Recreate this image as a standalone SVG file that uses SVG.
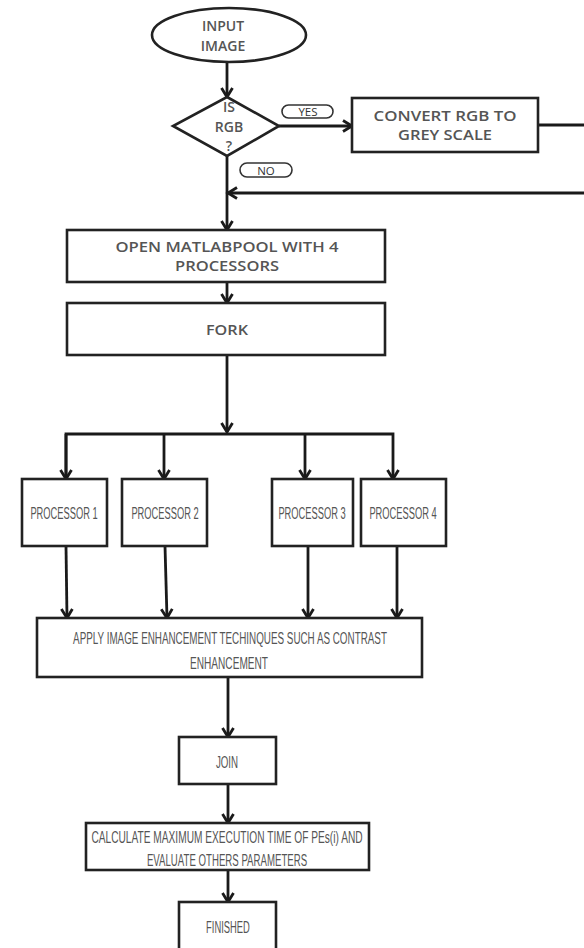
<svg xmlns="http://www.w3.org/2000/svg" width="584" height="948" viewBox="0 0 584 948">
<defs>
<marker id="arr" markerUnits="userSpaceOnUse" markerWidth="14" markerHeight="14" refX="11" refY="7" orient="auto">
<path d="M2,1.5 L11,7 L2,12.5" fill="none" stroke="#1a1a1a" stroke-width="2.8"/>
</marker>
<style>
.box{fill:#fff;stroke:#222;stroke-width:2.6}
.ln{fill:none;stroke:#1a1a1a;stroke-width:2.8}
.t{font-family:"Open Sans","Liberation Sans",sans-serif;font-weight:600;font-size:14px;fill:#555;text-anchor:middle}
.n{font-family:"Liberation Sans","Open Sans",sans-serif;font-size:16.5px;fill:#555;text-anchor:middle}
.pill{fill:#fff;stroke:#333;stroke-width:1.6}
.pt{font-family:"Open Sans","Liberation Sans",sans-serif;font-size:11.5px;fill:#333;text-anchor:middle}
</style>
</defs>
<rect width="584" height="948" fill="#fff"/>
<g id="connectors">
<line class="ln" x1="227" y1="62" x2="227" y2="97" marker-end="url(#arr)"/>
<line class="ln" x1="279" y1="126" x2="352" y2="126" marker-end="url(#arr)"/>
<line class="ln" x1="538" y1="125" x2="584" y2="125"/>
<line class="ln" x1="584" y1="193" x2="228" y2="193" marker-end="url(#arr)"/>
<line class="ln" x1="227" y1="156" x2="227" y2="230" marker-end="url(#arr)"/>
<line class="ln" x1="227" y1="282" x2="227" y2="303" marker-end="url(#arr)"/>
<line class="ln" x1="227" y1="355" x2="227" y2="432" marker-end="url(#arr)"/>
<path class="ln" d="M66,479 V434 H393 V479" marker-end="url(#arr)"/>
<line class="ln" x1="66" y1="434" x2="66" y2="479" marker-end="url(#arr)"/>
<line class="ln" x1="164" y1="434" x2="164" y2="479" marker-end="url(#arr)"/>
<line class="ln" x1="305" y1="434" x2="305" y2="479" marker-end="url(#arr)"/>
<line class="ln" x1="66" y1="546" x2="67" y2="618" marker-end="url(#arr)"/>
<line class="ln" x1="165" y1="546" x2="167" y2="618" marker-end="url(#arr)"/>
<line class="ln" x1="308" y1="546" x2="308" y2="618" marker-end="url(#arr)"/>
<line class="ln" x1="397" y1="546" x2="397" y2="618" marker-end="url(#arr)"/>
<line class="ln" x1="228" y1="677" x2="228" y2="737" marker-end="url(#arr)"/>
<line class="ln" x1="228" y1="784" x2="228" y2="823" marker-end="url(#arr)"/>
<line class="ln" x1="228" y1="870" x2="228" y2="902" marker-end="url(#arr)"/>
</g>
<g id="input">
<ellipse class="box" cx="229" cy="35" rx="77" ry="27"/>
<text class="t" x="223" y="31">INPUT</text>
<text class="t" x="223" y="51">IMAGE</text>
</g>
<g id="isrgb">
<polygon class="box" points="227,97 279,126 227,156 173,126"/>
<text class="t" x="229" y="112">IS</text>
<text class="t" x="229" y="132">RGB</text>
<text class="t" x="229" y="151">?</text>
</g>
<g id="yes">
<rect class="pill" x="282" y="105" width="51" height="13" rx="6.5"/>
<text class="pt" x="308" y="116">YES</text>
</g>
<g id="no">
<rect class="pill" x="240" y="163" width="52" height="14" rx="7"/>
<text class="pt" x="266" y="174.5">NO</text>
</g>
<g id="convert">
<rect class="box" x="352" y="98" width="186" height="54"/>
<text class="t" x="445" y="121" textLength="143" lengthAdjust="spacingAndGlyphs">CONVERT RGB TO</text>
<text class="t" x="445" y="140" textLength="94" lengthAdjust="spacingAndGlyphs">GREY SCALE</text>
</g>
<g id="open">
<rect class="box" x="67" y="230" width="318" height="52"/>
<text class="t" x="227" y="252" textLength="223" lengthAdjust="spacingAndGlyphs">OPEN MATLABPOOL WITH 4</text>
<text class="t" x="227" y="271" textLength="104" lengthAdjust="spacingAndGlyphs">PROCESSORS</text>
</g>
<g id="fork">
<rect class="box" x="67" y="303" width="318" height="52"/>
<text class="t" x="227" y="335" textLength="42" lengthAdjust="spacingAndGlyphs">FORK</text>
</g>
<g id="p1">
<rect class="box" x="22" y="479" width="85" height="67"/>
<text class="n" transform="translate(64,519) scale(0.6,1)" textLength="112" lengthAdjust="spacingAndGlyphs">PROCESSOR 1</text>
</g>
<g id="p2">
<rect class="box" x="122" y="479" width="85" height="67"/>
<text class="n" transform="translate(165,519) scale(0.6,1)" textLength="112" lengthAdjust="spacingAndGlyphs">PROCESSOR 2</text>
</g>
<g id="p3">
<rect class="box" x="272" y="479" width="81" height="67"/>
<text class="n" transform="translate(312,519) scale(0.6,1)" textLength="112" lengthAdjust="spacingAndGlyphs">PROCESSOR 3</text>
</g>
<g id="p4">
<rect class="box" x="361" y="479" width="85" height="67"/>
<text class="n" transform="translate(403,519) scale(0.6,1)" textLength="112" lengthAdjust="spacingAndGlyphs">PROCESSOR 4</text>
</g>
<g id="apply">
<rect class="box" x="37" y="618" width="385" height="59"/>
<text class="n" transform="translate(230,644) scale(0.6,1)" textLength="523" lengthAdjust="spacingAndGlyphs">APPLY IMAGE ENHANCEMENT  TECHINQUES SUCH AS CONTRAST</text>
<text class="n" transform="translate(229,669) scale(0.6,1)" textLength="130" lengthAdjust="spacingAndGlyphs">ENHANCEMENT</text>
</g>
<g id="join">
<rect class="box" x="179" y="737" width="97" height="47"/>
<text class="n" transform="translate(227,768) scale(0.6,1)" textLength="37" lengthAdjust="spacingAndGlyphs">JOIN</text>
</g>
<g id="calc">
<rect class="box" x="86" y="823" width="283" height="47"/>
<text class="n" transform="translate(227,843) scale(0.6,1)" textLength="452" lengthAdjust="spacingAndGlyphs">CALCULATE MAXIMUM EXECUTION TIME OF PEs(i) AND</text>
<text class="n" transform="translate(227,866) scale(0.6,1)" textLength="267" lengthAdjust="spacingAndGlyphs">EVALUATE OTHERS PARAMETERS</text>
</g>
<g id="finished">
<rect class="box" x="179" y="902" width="97" height="52"/>
<text class="n" transform="translate(228,933) scale(0.6,1)" textLength="73" lengthAdjust="spacingAndGlyphs">FINISHED</text>
</g>
</svg>
